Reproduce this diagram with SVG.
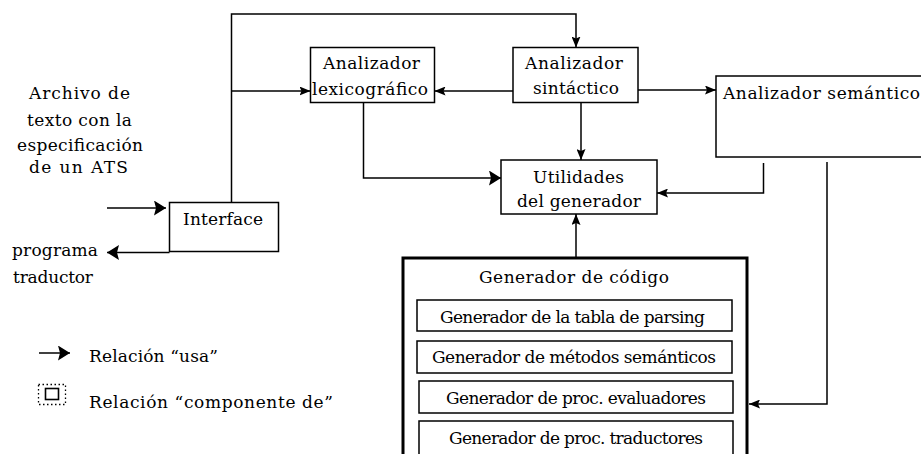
<svg xmlns="http://www.w3.org/2000/svg" width="921" height="454" viewBox="0 0 921 454">
<style>
  .box { fill: #fff; stroke: #000; stroke-width: 1.5; }
  .thick { fill: #fff; stroke: #000; stroke-width: 3; }
  .line { fill: none; stroke: #000; stroke-width: 1.5; }
  .t { font-family: 'DejaVu Serif', 'Liberation Serif', serif; font-size: 17px; fill: #000; }
</style>
<defs>
  <marker id="a" viewBox="0 0 11 9" refX="11" refY="4.5" markerWidth="11" markerHeight="9" markerUnits="userSpaceOnUse" orient="auto">
    <path d="M0,0 L11,4.5 L0,9 L2,4.5 z" fill="#000"/>
  </marker>
  <marker id="b" viewBox="0 0 12 15" refX="12" refY="7.5" markerWidth="12" markerHeight="15" markerUnits="userSpaceOnUse" orient="auto">
    <path d="M0,0 L12,7.5 L0,15 L2,7.5 z" fill="#000"/>
  </marker>
</defs>
<rect width="921" height="454" fill="#fff"/>

<g id="connectors">
  <path class="line" d="M231.5,202.5 V14 H576 V47.5" marker-end="url(#a)"/>
  <path class="line" d="M231.5,91 H310.5" marker-end="url(#a)"/>
  <path class="line" d="M513,91 H434.5" marker-end="url(#a)"/>
  <path class="line" d="M638,90 H716" marker-end="url(#a)"/>
  <path class="line" d="M581,102.5 V160" marker-end="url(#a)"/>
  <path class="line" d="M363.5,102.5 V178 H501" marker-end="url(#b)"/>
  <path class="line" d="M763.5,163 V193 H657" marker-end="url(#a)"/>
  <path class="line" d="M827,162 V404 H749" marker-end="url(#a)"/>
  <path class="line" d="M576,258 V214" marker-end="url(#a)"/>
  <path class="line" d="M107,208 H166" marker-end="url(#b)"/>
  <path class="line" d="M169.5,252.5 H107" marker-end="url(#b)"/>
</g>

<g id="archivo">
  <text class="t" x="29" y="99" textLength="101" lengthAdjust="spacing">Archivo de</text>
  <text class="t" x="27" y="126" textLength="105" lengthAdjust="spacing">texto con la</text>
  <text class="t" x="17" y="151" textLength="126" lengthAdjust="spacing">especificación</text>
  <text class="t" x="29" y="173" textLength="99" lengthAdjust="spacing">de un ATS</text>
</g>

<g id="programa">
  <text class="t" x="12" y="256" textLength="86" lengthAdjust="spacing">programa</text>
  <text class="t" x="13" y="283" textLength="80" lengthAdjust="spacing">traductor</text>
</g>

<g id="interface">
  <rect class="box" x="169.5" y="202.5" width="109" height="49"/>
  <text class="t" x="183" y="225" textLength="80" lengthAdjust="spacing">Interface</text>
</g>

<g id="lexicografico">
  <rect class="box" x="310.5" y="47.5" width="124" height="55"/>
  <text class="t" x="323" y="69" textLength="97" lengthAdjust="spacing">Analizador</text>
  <text class="t" x="312" y="95" textLength="116" lengthAdjust="spacing">lexicográfico</text>
</g>

<g id="sintactico">
  <rect class="box" x="513" y="47.5" width="125" height="55"/>
  <text class="t" x="525" y="69" textLength="98" lengthAdjust="spacing">Analizador</text>
  <text class="t" x="533" y="94" textLength="86" lengthAdjust="spacing">sintáctico</text>
</g>

<g id="semantico">
  <rect class="box" x="716" y="76" width="220" height="81"/>
  <text class="t" x="723" y="99" textLength="197" lengthAdjust="spacing">Analizador semántico</text>
</g>

<g id="utilidades">
  <rect class="box" x="501" y="160" width="156" height="54"/>
  <text class="t" x="533" y="183" textLength="91" lengthAdjust="spacing">Utilidades</text>
  <text class="t" x="517" y="207" textLength="124" lengthAdjust="spacing">del generador</text>
</g>

<g id="generador">
  <rect class="thick" x="403" y="258" width="344" height="215"/>
  <text class="t" x="479" y="283" textLength="190" lengthAdjust="spacing">Generador de código</text>
  <g id="gen-tabla">
    <rect class="box" x="417" y="300" width="315" height="31"/>
    <text class="t" x="440" y="323" textLength="265" lengthAdjust="spacing">Generador de la tabla de parsing</text>
  </g>
  <g id="gen-metodos">
    <rect class="box" x="417" y="341" width="315" height="32"/>
    <text class="t" x="432" y="363" textLength="284" lengthAdjust="spacing">Generador de métodos semánticos</text>
  </g>
  <g id="gen-evaluadores">
    <rect class="box" x="419" y="381" width="314" height="32"/>
    <text class="t" x="446" y="404" textLength="260" lengthAdjust="spacing">Generador de proc. evaluadores</text>
  </g>
  <g id="gen-traductores">
    <rect class="box" x="419" y="421" width="314" height="45"/>
    <text class="t" x="449" y="444" textLength="254" lengthAdjust="spacing">Generador de proc. traductores</text>
  </g>
</g>

<g id="legend">
  <g id="legend-usa">
    <line class="line" x1="39" y1="353" x2="70" y2="353" marker-end="url(#b)"/>
    <text class="t" x="89" y="362" textLength="129" lengthAdjust="spacing">Relación “usa”</text>
  </g>
  <g id="legend-componente">
    <rect x="38.5" y="384.5" width="27" height="20" fill="none" stroke="#000" stroke-width="1.3" stroke-dasharray="1.5,2.5"/>
    <rect x="45.5" y="388.5" width="13" height="11" fill="none" stroke="#000" stroke-width="1.6"/>
    <text class="t" x="89" y="408" textLength="244" lengthAdjust="spacing">Relación “componente de”</text>
  </g>
</g>
</svg>
